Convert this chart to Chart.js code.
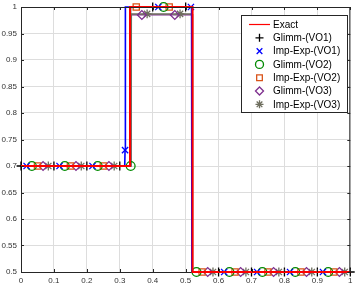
<!DOCTYPE html>
<html>
<head>
<meta charset="utf-8">
<script src="https://cdn.jsdelivr.net/npm/chart.js@4.4.1/dist/chart.umd.min.js"></script>
<style>
  html, body { margin: 0; padding: 0; background: #fff; }
  #wrap { width: 356px; height: 291px; }
</style>
</head>
<body>
<div id="wrap"><canvas id="chart" width="356" height="291"></canvas></div>
<script>
// exact solution (step profile)
const exactX = [0, 0.331, 0.331, 0.521, 0.521, 1];
const exactY = [0.7, 0.7, 1, 1, 0.5, 0.5];

// numerical profiles (lines)
const glimm1LineX = [0, 0.333, 0.333, 0.52, 0.52, 1];
const glimm1LineY = [0.7, 0.7, 1, 1, 0.5, 0.5];
const impExp1LineX = [0, 0.315, 0.316, 0.317, 0.518, 0.519, 1];
const impExp1LineY = [0.7, 0.7, 0.73, 1, 1, 0.5, 0.5];
const glimm3LineX = [0, 0.334, 0.334, 0.52, 0.52, 1];
const glimm3LineY = [0.7, 0.7, 0.985, 0.985, 0.5, 0.5];
const impExp3LineX = [0, 0.334, 0.335, 0.52, 0.521, 1];
const impExp3LineY = [0.7, 0.7, 0.987, 0.987, 0.5, 0.5];

// marker positions
const glimm1X = [0, 0.1, 0.2, 0.3, 0.4, 0.5, 0.6, 0.7, 0.8, 0.9, 1];
const glimm1Y = [0.7, 0.7, 0.7, 0.7, 1, 1, 0.5, 0.5, 0.5, 0.5, 0.5];
const impExp1X = [0.017, 0.117, 0.217, 0.316, 0.417, 0.516, 0.617, 0.717, 0.817, 0.917];
const impExp1Y = [0.7, 0.7, 0.7, 0.73, 1, 1, 0.5, 0.5, 0.5, 0.5];
const glimm2X = [0.033, 0.133, 0.233, 0.333, 0.433, 0.533, 0.633, 0.733, 0.833, 0.933];
const glimm2Y = [0.7, 0.7, 0.7, 0.7, 1, 0.5, 0.5, 0.5, 0.5, 0.5];
const impExp2X = [0.05, 0.15, 0.25, 0.35, 0.45, 0.55, 0.65, 0.75, 0.85, 0.95];
const impExp2Y = [0.7, 0.7, 0.7, 1, 1, 0.5, 0.5, 0.5, 0.5, 0.5];
const glimm3X = [0.067, 0.167, 0.267, 0.367, 0.467, 0.567, 0.667, 0.767, 0.867, 0.967];
const glimm3Y = [0.7, 0.7, 0.7, 0.985, 0.985, 0.5, 0.5, 0.5, 0.5, 0.5];
const impExp3X = [0.083, 0.183, 0.283, 0.383, 0.483, 0.583, 0.683, 0.783, 0.883, 0.983];
const impExp3Y = [0.7, 0.7, 0.7, 0.987, 0.987, 0.5, 0.5, 0.5, 0.5, 0.5];

const seriesNames = ['Exact', 'Glimm-(VO1)', 'Imp-Exp-(VO1)', 'Glimm-(VO2)', 'Imp-Exp-(VO2)', 'Glimm-(VO3)', 'Imp-Exp-(VO3)'];

const RED = '#ff0000', BLACK = '#000000', BLUE = '#0000ff', GREEN = '#008a00',
      ORANGE = '#d95319', PURPLE = '#7e2f8e', GREY = '#6e6e5e';
const AXIS = '#262626';

function pts(xs, ys) { return xs.map((x, i) => ({ x: x, y: ys[i] })); }

function lineSet(xs, ys, color, width, order) {
    return { data: pts(xs, ys), borderColor: color, borderWidth: width, pointRadius: 0,
             showLine: true, fill: false, tension: 0, order: order, clip: false };
}
function markerSet(xs, ys, color, style, order) {
    return { data: pts(xs, ys), showLine: false, pointStyle: style, pointRadius: 4.4,
             pointBorderColor: color, pointBackgroundColor: 'rgba(0,0,0,0)',
             pointBorderWidth: 1.3, order: order, clip: false };
}

const legendItems = [
    { line: true, color: RED },
    { style: 'cross', color: BLACK },
    { style: 'crossRot', color: BLUE },
    { style: 'circle', color: GREEN },
    { style: 'rect', color: ORANGE },
    { style: 'rectRot', color: PURPLE },
    { style: 'star', color: GREY }
];

// box, inner ticks and legend drawn on top
const frameAndLegend = {
    id: 'frameAndLegend',
    afterDraw(chart) {
        const ctx = chart.ctx, a = chart.chartArea;
        const xs = chart.scales.x, ys = chart.scales.y;
        ctx.save();
        ctx.strokeStyle = AXIS;
        ctx.lineWidth = 1;
        ctx.beginPath();
        ctx.moveTo(a.left + 0.5, a.top + 0.5);
        ctx.lineTo(a.right - 0.5, a.top + 0.5);
        ctx.lineTo(a.right - 0.5, a.bottom);
        ctx.stroke();
        ctx.beginPath();
        xs.ticks.forEach(t => {
            const px = Math.round(xs.getPixelForValue(t.value)) + 0.5;
            ctx.moveTo(px, a.bottom); ctx.lineTo(px, a.bottom - 3);
            ctx.moveTo(px, a.top); ctx.lineTo(px, a.top + 3);
        });
        ys.ticks.forEach(t => {
            const py = Math.round(ys.getPixelForValue(t.value)) + 0.5;
            ctx.moveTo(a.left, py); ctx.lineTo(a.left + 3, py);
            ctx.moveTo(a.right, py); ctx.lineTo(a.right - 3, py);
        });
        ctx.stroke();

        // legend
        const bx = 241.5, by = 15.5, bw = 106, bh = 97;
        ctx.fillStyle = '#fff';
        ctx.fillRect(bx, by, bw, bh);
        ctx.strokeStyle = AXIS;
        ctx.strokeRect(bx, by, bw, bh);
        ctx.font = '10px "Liberation Sans", Arial, sans-serif';
        ctx.textBaseline = 'middle';
        ctx.textAlign = 'left';
        legendItems.forEach((it, i) => {
            const y = 24.5 + i * 13.3;
            if (it.line) {
                ctx.strokeStyle = it.color;
                ctx.lineWidth = 1.2;
                ctx.beginPath();
                ctx.moveTo(249, y); ctx.lineTo(270, y);
                ctx.stroke();
            } else {
                ctx.strokeStyle = it.color;
                ctx.fillStyle = 'rgba(0,0,0,0)';
                ctx.lineWidth = 1.3;
                Chart.helpers.drawPoint(ctx, { pointStyle: it.style, radius: 4, rotation: 0, borderWidth: 1.3 }, 259.5, y);
            }
            ctx.fillStyle = '#000';
            ctx.fillText(seriesNames[i], 273, y + 0.5);
        });
        ctx.restore();
    }
};

const fmt = v => String(parseFloat(Number(v).toFixed(2)));

new Chart(document.getElementById('chart'), {
    type: 'scatter',
    data: {
        datasets: [
            lineSet(glimm1LineX, glimm1LineY, BLACK, 1.2, 9),
            lineSet(glimm3LineX, glimm3LineY, PURPLE, 1.2, 8),
            lineSet(impExp3LineX, impExp3LineY, GREY, 1.5, 7),
            lineSet(impExp1LineX, impExp1LineY, BLUE, 1.6, 6),
            markerSet(glimm1X, glimm1Y, BLACK, 'cross', 5),
            markerSet(impExp1X, impExp1Y, BLUE, 'crossRot', 5),
            markerSet(glimm2X, glimm2Y, GREEN, 'circle', 5),
            markerSet(impExp2X, impExp2Y, ORANGE, 'rect', 5),
            markerSet(glimm3X, glimm3Y, PURPLE, 'rectRot', 5),
            markerSet(impExp3X, impExp3Y, GREY, 'star', 5),
            lineSet(exactX, exactY, RED, 2, 0)
        ]
    },
    options: {
        responsive: false,
        animation: false,
        layout: { padding: { top: 7, right: -5, left: 0, bottom: 0 } },
        plugins: { legend: { display: false }, tooltip: { enabled: false } },
        scales: {
            x: {
                type: 'linear', min: 0, max: 1,
                grid: { color: '#dddddd', drawTicks: false },
                border: { color: AXIS },
                ticks: { stepSize: 0.1, autoSkip: false, maxRotation: 0, padding: 4,
                         color: '#333', font: { size: 8, family: '"Liberation Sans", Arial, sans-serif' },
                         callback: fmt },
                afterFit(s) { s.height = 19; s.paddingLeft = 0; s.paddingRight = 0; }
            },
            y: {
                min: 0.5, max: 1,
                grid: { color: '#dddddd', drawTicks: false },
                border: { color: AXIS },
                ticks: { stepSize: 0.05, autoSkip: false, padding: 4,
                         color: '#333', font: { size: 8, family: '"Liberation Sans", Arial, sans-serif' },
                         callback: fmt },
                afterFit(s) { s.width = 21; s.paddingTop = 0; s.paddingBottom = 0; }
            }
        }
    },
    plugins: [frameAndLegend]
});
</script>
</body>
</html>
